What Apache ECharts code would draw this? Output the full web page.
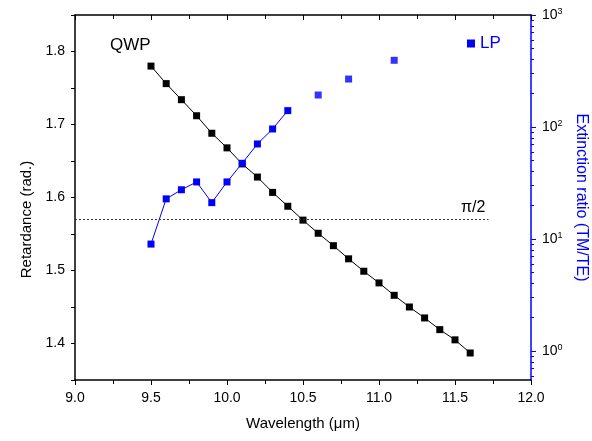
<!DOCTYPE html>
<html>
<head>
<meta charset="utf-8">
<script src="https://cdn.jsdelivr.net/npm/echarts@6/dist/echarts.min.js"></script>
<style>
  html, body { margin: 0; padding: 0; background: #fff; }
  #chart { width: 592px; height: 441px; }
</style>
</head>
<body>
<div id="chart"></div>
<script>
  // QWP retardance (left axis)
  const qwpWavelength = [9.5, 9.6, 9.7, 9.8, 9.9, 10.0, 10.1, 10.2, 10.3, 10.4, 10.5,
    10.6, 10.7, 10.8, 10.9, 11.0, 11.1, 11.2, 11.3, 11.4, 11.5, 11.6]
  const qwpRetardance = [1.780, 1.756, 1.734, 1.712, 1.688, 1.668, 1.646, 1.628, 1.607, 1.588, 1.569,
    1.551, 1.534, 1.516, 1.499, 1.483, 1.466, 1.450, 1.435, 1.419, 1.405, 1.387]

  // LP extinction ratio (right log axis) - connected part and isolated points
  const lpWavelength = [9.5, 9.6, 9.7, 9.8, 9.9, 10.0, 10.1, 10.2, 10.3, 10.4]
  const lpRatio = [9.0, 22.8, 27.5, 32.3, 21.1, 32.3, 47.4, 70.5, 96, 140]
  const lpExtraWavelength = [10.6, 10.8, 11.1]
  const lpExtraRatio = [193, 268, 394]

  // reference line pi/2
  const halfPi = Math.PI / 2
  const halfPiRange = [9.0, 11.72]

  // tick labels
  const leftLabels = [1.4, 1.5, 1.6, 1.7, 1.8]
  const leftTicks = [1.35, 1.4, 1.45, 1.5, 1.55, 1.6, 1.65, 1.7, 1.75, 1.8, 1.85]
  const rightLabels = [1, 10, 100, 1000]
  const rightMinorTicks = [0.6, 0.7, 0.8, 0.9, 2, 3, 4, 5, 6, 7, 8, 9,
    20, 30, 40, 50, 60, 70, 80, 90, 200, 300, 400, 500, 600, 700, 800, 900]

  const pairs = (xs, ys) => xs.map((x, i) => [x, ys[i]])

  const FONT = 'Liberation Sans, Arial, sans-serif'
  const BLUE = '#0000ff'
  const xMin = 9.0, xMax = 12.0
  const yMin = 1.35, yMax = 1.85
  const rMin = 0.55, rMax = 1000

  const chart = echarts.init(document.getElementById('chart'), null, { renderer: 'canvas' })

  chart.setOption({
    animation: false,
    backgroundColor: '#fff',
    grid: { left: 75, right: 61, top: 15, bottom: 61, containLabel: false, outerBoundsMode: 'none' },
    legend: {
      data: [{ name: 'LP', icon: 'rect' }],
      left: 462, top: 30,
      itemWidth: 8, itemHeight: 8, itemGap: 7,
      textStyle: { color: BLUE, fontSize: 17, fontFamily: FONT }
    },
    graphic: [{
      type: 'text', left: 110, top: 37,
      style: { text: 'QWP', fill: '#000', font: '17px ' + FONT }
    }],
    xAxis: [{
      type: 'value', position: 'bottom', min: xMin, max: xMax, interval: 0.5,
      name: 'Wavelength (\u03bcm)', nameLocation: 'middle', nameGap: 36,
      nameTextStyle: { color: '#000', fontSize: 15, fontFamily: FONT },
      axisLine: { show: true, lineStyle: { color: '#000', width: 1.5 } },
      axisTick: { show: true, inside: false, length: 5, lineStyle: { color: '#000' } },
      minorTick: { show: true, splitNumber: 2, length: 4, lineStyle: { color: '#000' } },
      axisLabel: { color: '#000', fontSize: 14, fontFamily: FONT, margin: 11,
        formatter: v => v.toFixed(1) },
      splitLine: { show: false }, minorSplitLine: { show: false }
    }, {
      type: 'value', position: 'top', min: xMin, max: xMax, interval: 0.5,
      axisLine: { show: true, lineStyle: { color: '#000', width: 1.5 } },
      axisTick: { show: true, inside: true, length: 5, lineStyle: { color: '#000' } },
      minorTick: { show: true, splitNumber: 2, length: 4, lineStyle: { color: '#000' } },
      axisLabel: { show: false },
      splitLine: { show: false }, minorSplitLine: { show: false }
    }],
    yAxis: [{
      type: 'value', position: 'left', min: yMin, max: yMax,
      name: 'Retardance (rad.)', nameLocation: 'middle', nameGap: 40,
      nameTextStyle: { color: '#000', fontSize: 15, fontFamily: FONT, padding: [0, 44, 0, 0] },
      axisLine: { show: true, lineStyle: { color: '#000', width: 1.5 } },
      axisTick: { show: true, inside: false, length: 4, customValues: leftTicks, lineStyle: { color: '#000' } },
      axisLabel: { color: '#000', fontSize: 14, fontFamily: FONT, margin: 10,
        customValues: leftLabels, formatter: v => v.toFixed(1) },
      splitLine: { show: false }
    }, {
      type: 'log', logBase: 10, position: 'right', min: rMin, max: rMax,
      name: 'Extinction ratio (TM/TE)', nameLocation: 'middle', nameGap: 42, nameRotate: -90,
      nameTextStyle: { color: BLUE, fontSize: 16, fontFamily: FONT },
      axisLine: { show: true, lineStyle: { color: BLUE, width: 1.5 } },
      axisTick: { show: true, inside: false, length: 5, customValues: rightLabels, lineStyle: { color: BLUE } },
      axisLabel: {
        color: '#000', fontSize: 14, fontFamily: FONT, margin: 11, lineHeight: 16,
        customValues: rightLabels,
        formatter: v => '10{sup|' + Math.round(Math.log10(v)) + '}',
        rich: { sup: { fontSize: 9, verticalAlign: 'top', lineHeight: 16, fontFamily: FONT, color: '#000' } }
      },
      splitLine: { show: false }
    }, {
      type: 'log', logBase: 10, position: 'right', min: rMin, max: rMax,
      axisLine: { show: false },
      axisTick: { show: true, inside: false, length: 3, customValues: rightMinorTicks, lineStyle: { color: BLUE } },
      axisLabel: { show: false },
      splitLine: { show: false }
    }],
    series: [{
      name: 'QWP', type: 'line', xAxisIndex: 0, yAxisIndex: 0,
      data: pairs(qwpWavelength, qwpRetardance),
      symbol: 'rect', symbolSize: 7,
      itemStyle: { color: '#000' },
      lineStyle: { color: '#000', width: 1 },
      markLine: {
        silent: true, symbol: 'none',
        lineStyle: { color: '#333', width: 1, type: [2, 2] },
        label: {
          show: true, position: 'insideEndTop', distance: 3,
          formatter: '\u03c0/2', color: '#000', fontSize: 16, fontFamily: FONT
        },
        data: [[{ coord: [halfPiRange[0], halfPi] }, { coord: [halfPiRange[1], halfPi] }]]
      }
    }, {
      name: 'LP', type: 'line', xAxisIndex: 0, yAxisIndex: 1,
      data: pairs(lpWavelength, lpRatio),
      symbol: 'rect', symbolSize: 7,
      itemStyle: { color: BLUE },
      lineStyle: { color: BLUE, width: 1 }
    }, {
      name: 'LP', type: 'scatter', xAxisIndex: 0, yAxisIndex: 1,
      data: pairs(lpExtraWavelength, lpExtraRatio),
      symbol: 'rect', symbolSize: 7,
      itemStyle: { color: BLUE }
    }]
  })
</script>
</body>
</html>
